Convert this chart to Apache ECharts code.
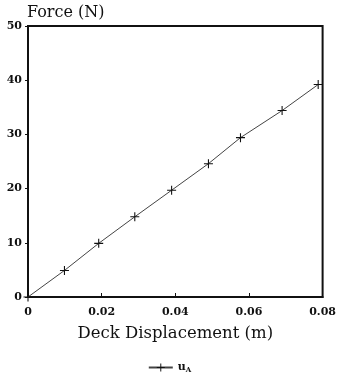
<!DOCTYPE html>
<html><head><meta charset="utf-8">
<script src="https://cdn.jsdelivr.net/npm/echarts@6/dist/echarts.min.js"></script>
<style>html,body{margin:0;padding:0;background:#fff}#c{width:339px;height:379px}</style>
</head><body><div id="c"></div>
<script>
const displacement = [0, 0.0099, 0.0192, 0.029, 0.039, 0.049, 0.0577, 0.069, 0.0788];
const force = [0, 4.9, 9.9, 14.8, 19.7, 24.6, 29.4, 34.4, 39.2];
const seriesName = 'uA';
const xTitle = 'Deck Displacement (m)';
const yTitle = 'Force (N)';

const chart = echarts.init(document.getElementById('c'), null, {renderer: 'canvas'});
const serif = '"DejaVu Serif", "Liberation Serif", serif';
chart.setOption({
  animation: false,
  backgroundColor: '#fff',
  grid: {left: 28, right: 12, top: 26, bottom: 82, show: true, borderColor: '#111', borderWidth: 2, backgroundColor: 'transparent'},
  xAxis: {
    type: 'value', min: 0, max: 0.08, interval: 0.02,
    name: xTitle, nameLocation: 'middle', nameGap: 28,
    nameTextStyle: {fontFamily: serif, fontSize: 16.5, color: '#111'},
    axisLine: {show: true, lineStyle: {color: '#111', width: 2}},
    axisTick: {show: true, inside: true, length: 4, lineStyle: {color: '#111', width: 1}},
    axisLabel: {fontFamily: serif, fontWeight: 'bold', fontSize: 11, color: '#111', margin: 10,
      formatter: v => v === 0 ? '0' : v.toFixed(2)},
    splitLine: {show: false}
  },
  yAxis: {
    type: 'value', min: 0, max: 50, interval: 10,
    name: yTitle, nameLocation: 'end', nameGap: 3,
    nameTextStyle: {fontFamily: serif, fontSize: 16, color: '#111', align: 'left', padding: [0, 0, 0, -1]},
    axisLine: {show: true, lineStyle: {color: '#111', width: 2}},
    axisTick: {show: true, inside: false, length: 3, lineStyle: {color: '#111', width: 1}},
    axisLabel: {fontFamily: serif, fontWeight: 'bold', fontSize: 11, color: '#111', margin: 6},
    splitLine: {show: false}
  },
  legend: {
    bottom: 0, left: 'center', itemWidth: 24, itemHeight: 10,
    data: [seriesName],
    formatter: () => '{a|u}{b|A}',
    textStyle: {rich: {
      a: {fontFamily: serif, fontWeight: 'bold', fontSize: 11, color: '#111'},
      b: {fontFamily: serif, fontWeight: 'bold', fontSize: 7, color: '#111', verticalAlign: 'bottom', padding: [6, 0, 0, 0]}
    }}
  },
  series: [{
    name: seriesName, type: 'line',
    data: displacement.map((x, i) => [x, force[i]]),
    symbol: 'path://M4.4,0H5.6V4.4H10V5.6H5.6V10H4.4V5.6H0V4.4H4.4Z',
    symbolSize: 9, showSymbol: true,
    itemStyle: {color: '#111'},
    lineStyle: {color: '#444', width: 1}
  }]
});
</script></body></html>
